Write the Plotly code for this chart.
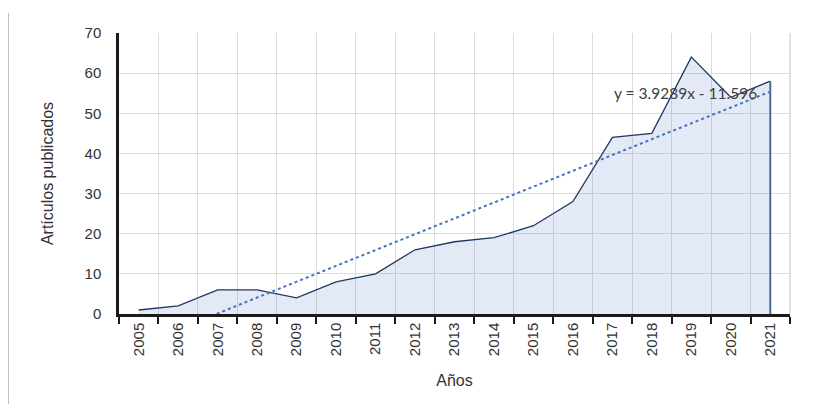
import numpy as np
import plotly.graph_objects as go

years = ["2005", "2006", "2007", "2008", "2009", "2010", "2011", "2012", "2013",
         "2014", "2015", "2016", "2017", "2018", "2019", "2020", "2021"]
articles = [1, 2, 6, 6, 4, 8, 10, 16, 18, 19, 22, 28, 44, 45, 64, 54, 58]
trend_label = "y = 3.9289x - 11.596"

# linear trendline (least squares on index 1..n, as in the spreadsheet)
idx = np.arange(1, len(years) + 1)
slope, intercept = np.polyfit(idx, articles, 1)
trend = [float(v) for v in slope * idx + intercept]

font = "Liberation Sans, Arial, sans-serif"
txt = "#333333"

# page body has an 8px margin, so the figure is 8px smaller and shifted
W, H = 813, 396
ML, MR, MT, MB = 111, 31, 25, 90
PW, PH = W - ML - MR, H - MT - MB

fig = go.Figure()
fig.add_trace(go.Scatter(
    x=years, y=articles, mode="lines", fill="tozeroy",
    fillcolor="rgba(68,114,196,0.15)", line=dict(color="#1F3864", width=1.3),
    showlegend=False, hoverinfo="skip"))
fig.add_trace(go.Scatter(
    x=[years[-1], years[-1]], y=[articles[-1], 0], mode="lines",
    line=dict(color="#4A6A9A", width=2), showlegend=False, hoverinfo="skip"))
fig.add_trace(go.Scatter(
    x=years, y=trend, mode="lines",
    line=dict(color="#4472C4", width=2, dash="dot"),
    showlegend=False, hoverinfo="skip"))

fig.add_annotation(x=12.0, y=55.0, xref="x", yref="y",
                   text=trend_label, showarrow=False, xanchor="left", yanchor="middle",
                   font=dict(family="Lato, sans-serif", size=15.5, color="#404040"))

fig.update_layout(
    width=W, height=H,
    margin=dict(l=ML, r=MR, t=MT, b=MB),
    paper_bgcolor="white", plot_bgcolor="white",
    font=dict(family=font, size=15, color=txt),
)
fig.update_xaxes(
    type="category", tickson="boundaries", ticks="outside", ticklen=7,
    tickwidth=2, tickcolor="#1A1A1A", tickangle=-90,
    showline=True, linecolor="#1A1A1A", linewidth=2.5,
    showgrid=True, gridcolor="#DCDCDC", gridwidth=1,
    range=[-0.5, 16.5],
    title=dict(text="Años", font=dict(size=16, family=font, color=txt), standoff=20),
    tickfont=dict(size=15, color=txt),
)
fig.update_yaxes(
    range=[0, 70], dtick=10, ticks="", ticklabelstandoff=12,
    showline=True, linecolor="#1A1A1A", linewidth=2.5,
    showgrid=True, gridcolor="#DCDCDC", gridwidth=1, zeroline=False,
    title=dict(text="Artículos publicados", font=dict(size=16, family=font, color=txt), standoff=27),
    tickfont=dict(size=15, color=txt),
)
# right border line (grid at last boundary)
fig.add_shape(type="line", xref="paper", yref="paper", x0=1, x1=1, y0=0, y1=1,
              line=dict(color="#D9D9D9", width=1.5))
# thin grey frame line at the far left of the page
fig.add_shape(type="line", xref="paper", yref="paper",
              x0=-(ML - 0.5) / PW, x1=-(ML - 0.5) / PW,
              y0=-MB / PH, y1=1 + (MT - 5) / PH,
              line=dict(color="#BFBFBF", width=1))

fig.write_html("out.html")
